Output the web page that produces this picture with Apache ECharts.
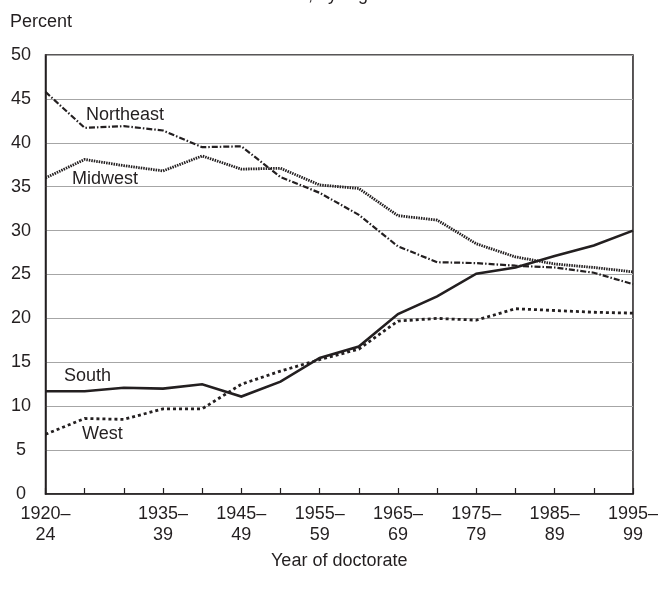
<!DOCTYPE html>
<html>
<head>
<meta charset="utf-8">
<script src="https://cdn.jsdelivr.net/npm/echarts@6/dist/echarts.min.js"></script>
<style>
  html, body { margin: 0; padding: 0; background: #fff; }
  #chart { width: 661px; height: 593px; }
</style>
</head>
<body>
<div id="chart"></div>
<script>
// Five-year doctorate cohorts
const periods = ['1920–24', '1925–29', '1930–34', '1935–39', '1940–44', '1945–49', '1950–54', '1955–59',
                 '1960–64', '1965–69', '1970–74', '1975–79', '1980–84', '1985–89', '1990–94', '1995–99'];
// Cohorts that carry a tick label
const labeledPeriods = ['1920–24', '1935–39', '1945–49', '1955–59', '1965–69', '1975–79', '1985–89', '1995–99'];

// Share of doctorates by region (percent)
const northeast = [45.8, 41.7, 41.9, 41.4, 39.5, 39.6, 36.1, 34.3, 31.8, 28.2, 26.4, 26.3, 26.0, 25.8, 25.2, 23.9];
const midwest   = [36.0, 38.1, 37.4, 36.8, 38.5, 37.0, 37.1, 35.2, 34.8, 31.7, 31.2, 28.5, 27.0, 26.2, 25.8, 25.3];
const south     = [11.7, 11.7, 12.1, 12.0, 12.5, 11.1, 12.8, 15.5, 16.8, 20.5, 22.5, 25.1, 25.8, 27.1, 28.3, 30.0];
const west      = [6.8, 8.6, 8.5, 9.7, 9.7, 12.5, 14.0, 15.3, 16.5, 19.7, 20.0, 19.8, 21.1, 20.9, 20.7, 20.6];

const ink = '#231f20';
const font = 'Liberation Sans, Arial, Helvetica, sans-serif';

const chart = echarts.init(document.getElementById('chart'), null, { renderer: 'canvas' });

function regionLine(name, values, lineStyle) {
  return {
    name: name,
    type: 'line',
    data: values,
    symbol: 'none',
    lineStyle: Object.assign({ color: ink, cap: 'butt', join: 'miter' }, lineStyle),
    itemStyle: { color: ink },
    z: 3
  };
}

chart.setOption({
  animation: false,
  backgroundColor: '#fff',
  grid: {
    left: 45.5, right: 28, top: 55, bottom: 99,
    show: true, borderColor: ink, borderWidth: 1.5, backgroundColor: 'transparent'
  },
  xAxis: {
    type: 'category',
    data: periods,
    boundaryGap: false,
    name: 'Year of doctorate',
    nameLocation: 'middle',
    nameGap: 58,
    nameTextStyle: { fontFamily: font, fontSize: 18, color: ink },
    axisLine: { lineStyle: { color: ink, width: 1.5 } },
    axisTick: { show: true, inside: true, length: 6, interval: 0, lineStyle: { color: ink, width: 1.2 } },
    axisLabel: {
      interval: (i, v) => labeledPeriods.includes(v),
      formatter: v => v.replace('–', '–\n'),
      fontFamily: font, fontSize: 18, lineHeight: 21, color: ink, margin: 10,
      showMinLabel: true, showMaxLabel: true
    },
    splitLine: { show: false }
  },
  yAxis: {
    type: 'value',
    min: 0, max: 50, interval: 5,
    axisLine: { show: true, lineStyle: { color: ink, width: 1.5 } },
    axisTick: { show: false },
    axisLabel: { fontFamily: font, fontSize: 18, color: ink, align: 'center', margin: 24.5 },
    splitLine: { show: true, lineStyle: { color: '#a6a6a6', width: 1.2 } }
  },
  graphic: [
    // Heading sits above the top edge of the page; only its descenders reach into view
    { type: 'text', x: 221, y: 4, style: { text: 'Doctorates, by region', font: '18px ' + font, fill: ink, verticalAlign: 'bottom' } },
    { type: 'text', left: 10, top: 13, style: { text: 'Percent', font: '18px ' + font, fill: ink } },
    { type: 'text', left: 86, top: 106, z: 10, style: { text: 'Northeast', font: '18px ' + font, fill: ink } },
    { type: 'text', left: 72, top: 170, z: 10, style: { text: 'Midwest', font: '18px ' + font, fill: ink } },
    { type: 'text', left: 64, top: 367, z: 10, style: { text: 'South', font: '18px ' + font, fill: ink } },
    { type: 'text', left: 82, top: 425, z: 10, style: { text: 'West', font: '18px ' + font, fill: ink } }
  ],
  series: [
    regionLine('Northeast', northeast, { width: 2.2, type: [6, 2, 1.5, 2] }),
    regionLine('Midwest', midwest, { width: 2.8, type: [1.5, 1] }),
    regionLine('South', south, { width: 2.6, type: 'solid' }),
    regionLine('West', west, { width: 2.8, type: [3, 3] })
  ]
});
</script>
</body>
</html>
